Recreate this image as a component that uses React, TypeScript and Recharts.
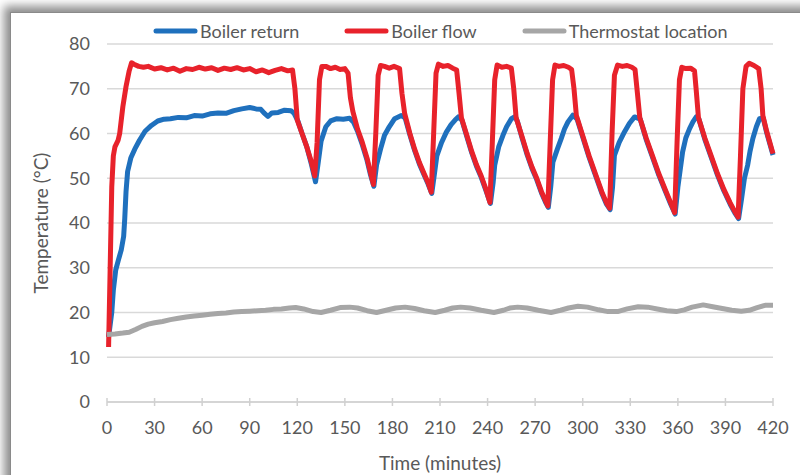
import { CartesianGrid, Legend, Line, LineChart, XAxis, YAxis } from "recharts";

// readings taken off the chart (minutes, °C)
const returnTime = [
  1, 3, 4, 5.5, 7, 9, 10.5, 11.2, 12, 13, 15, 17.5, 20.5, 24, 28, 32, 36, 40, 45, 50, 55, 60, 65, 70, 75, 80,
  85, 90, 94, 97, 99, 101.5, 104, 108, 112, 116, 118, 120.5, 123, 126, 129, 131.5,
  133, 135, 138, 141, 145, 149, 153, 155.5, 158, 161, 164, 166, 168.3,
  170, 172.5, 175, 178, 181.4, 185.6, 188, 191, 194, 197, 200, 202.5, 204.8,
  206.5, 208, 211, 214, 217, 219.5, 221.5, 223.8, 227, 230, 233, 236, 239, 241.8,
  243.5, 244.5, 247, 249.7, 252, 255, 257.5, 259, 262, 265, 268, 271, 274, 276.5, 278.3,
  279.8, 281.2, 284, 286.5, 288.5, 290.7, 293.8, 296.5, 300, 304, 308, 312, 315, 317.3,
  318.8, 320, 323, 326.4, 329.5, 332.7, 336.3, 340, 344, 348, 352, 355.5, 358.3,
  360, 363, 365, 367.4, 369.5, 371.6, 373.3, 377, 381, 385, 389, 393, 396, 398.3,
  400, 402, 404, 405.5, 407.3, 409.5, 411.5, 413.8, 416, 418, 420,
];
const returnTemp = [
  14.5, 20, 25, 29.5, 31.5, 34, 37, 41, 47, 51.5, 54.5, 56.5, 58.5, 60.5, 61.8, 62.8, 63.2, 63.3, 63.6, 63.5,
  64, 63.9, 64.4, 64.6, 64.5, 65.1, 65.5, 65.8, 65.5, 65.4, 64.6, 63.8, 64.6, 64.7, 65.2, 65.1, 64.5, 62.7,
  60, 57, 53, 49.2,
  53, 58.3, 61.5, 62.8, 63.3, 63.2, 63.4, 62.5, 60.5, 57.5, 54, 51, 48.2,
  53, 56.5, 59.6, 61.5, 63.3, 64, 63.5, 59.7, 56.2, 53.2, 50.7, 48.7, 46.6,
  51, 55, 58, 60.3, 62, 63, 63.7, 63, 59.2, 55.7, 52.7, 50.2, 47.2, 44.4,
  49, 52.9, 57, 59.6, 61.5, 63.3, 63.8, 62.5, 58.7, 55.2, 52.2, 49.7, 46.7, 44.7, 43.5,
  48, 53.6, 56.5, 58.9, 61, 62.6, 64.1, 63.2, 59.2, 54.7, 50.7, 46.7, 44.2, 43,
  48, 55.1, 58, 60.4, 62.3, 63.7, 63.2, 58.7, 54.7, 50.7, 47.2, 44.2, 42,
  48, 55.9, 59, 61.1, 62.6, 63.7, 63.2, 58.7, 54.7, 50.7, 47.2, 44.2, 42.2, 41,
  45, 50, 52.9, 56, 58.9, 61.5, 63.3, 63.5, 60.2, 57.7, 55.2,
];

const flowTime = [
  1, 2, 3, 4, 5, 7, 8, 10, 12, 14, 15.5, 17, 20, 23, 26, 30, 34, 38, 42, 46, 50, 54, 58, 62, 66, 70, 74, 78,
  82, 86, 90, 94, 98, 102, 106, 110, 114, 117, 118.5, 120, 123, 126, 129, 131,
  132.5, 134, 135.5, 138, 141, 144, 147, 150, 152, 153.5, 155, 158, 161, 164, 166, 168,
  169.5, 171, 172.5, 175, 178, 181, 184.5, 186, 187.7, 191, 194, 197, 200, 202.5, 204.5,
  206, 207.5, 209, 212, 215, 218, 220.5, 222, 223.5, 227, 230, 233, 236, 239, 241.5,
  243, 244.5, 246, 249, 252, 255, 256.5, 258, 262, 265, 268, 271, 274, 276.5, 278,
  279.5, 281, 282.5, 285, 288, 291, 293, 294.5, 296, 300, 304, 308, 312, 315, 317,
  318.5, 320, 322, 325, 328, 331, 333, 334.5, 336, 340, 344, 348, 352, 355.5, 358,
  359.5, 361, 362.5, 365, 368, 370.5, 371.5, 373, 377, 381, 385, 389, 393, 396, 398,
  399.5, 401, 403, 405, 408, 411, 412.5, 413.6, 416, 418, 420,
];
const flowTemp = [
  12.3, 30, 48, 55, 57, 58.5, 60, 66, 70.5, 74, 75.8, 75.5, 75, 74.8, 75, 74.4, 74.7, 74.2, 74.6, 73.9, 74.5,
  74.3, 74.8, 74.4, 74.7, 74.1, 74.6, 74.3, 74.7, 74.2, 74.5, 73.8, 74.2, 73.6, 74.1, 74.5, 74, 74.2, 70,
  63, 60, 57, 53.5, 50.5,
  58, 72, 75, 75, 74.5, 74.8, 74.3, 74.5, 73.5, 68, 65, 61, 58, 54.5, 51.5, 48.6,
  60, 73, 75.2, 75, 74.6, 75, 74.5, 69, 64.5, 60, 56.5, 53.5, 51, 49, 46.9,
  60, 73.5, 75.5, 75, 75.2, 74.6, 74.2, 69, 63.5, 59.5, 56, 53, 50.5, 47.5, 44.6,
  58, 72, 75.3, 74.8, 75, 74.6, 70, 63.5, 59, 55.5, 52.5, 50, 47, 45, 43.8,
  58, 72, 75.3, 75, 75.2, 74.8, 74.3, 70, 64, 59.5, 55, 51, 47, 44.5, 43.3,
  60, 73, 75.3, 75, 75.2, 74.8, 74.3, 69, 63.5, 59, 55, 51, 47.5, 44.5, 42.3,
  58, 72, 74.8, 74.5, 74.6, 74, 70, 63.5, 59, 55, 51, 47.5, 44.5, 42.5, 41.3,
  55, 70, 75, 75.7, 75.2, 74.5, 70, 64, 60.5, 58, 55.5,
];

const roomTime = [
  0, 5, 10, 14, 18, 22, 26, 30, 35, 40, 45, 50, 55, 60, 65, 70, 75, 80, 85, 90, 95, 100, 105, 110, 115, 119,
  124, 130, 135, 141, 147, 153, 158, 164, 170, 176, 182, 188, 194, 200, 207, 213, 218, 223, 229, 236, 244,
  250, 254, 259, 265, 272, 280, 286, 291, 297, 303, 310, 316, 322, 328, 335, 341, 347, 353, 359, 364, 369,
  376, 382, 388, 394, 400, 405, 410, 415, 420,
];
const roomTemp = [
  15.1, 15.2, 15.4, 15.6, 16.2, 16.9, 17.4, 17.7, 18, 18.4, 18.7, 19, 19.2, 19.4, 19.6, 19.8, 19.9, 20.1, 20.2,
  20.3, 20.4, 20.5, 20.7, 20.8, 21, 21.1, 20.8, 20.2, 20, 20.5, 21.1, 21.2, 21, 20.4, 20, 20.5, 21, 21.2, 20.9,
  20.4, 20, 20.5, 21, 21.2, 21, 20.5, 20, 20.5, 21, 21.2, 21, 20.5, 20, 20.5, 21, 21.4, 21.2, 20.6, 20.2, 20.2,
  20.8, 21.3, 21.2, 20.8, 20.4, 20.2, 20.6, 21.2, 21.7, 21.3, 20.9, 20.5, 20.3, 20.5, 21.1, 21.6, 21.6,
];

const yTicks = [0, 10, 20, 30, 40, 50, 60, 70, 80];
const xTicks = [0, 30, 60, 90, 120, 150, 180, 210, 240, 270, 300, 330, 360, 390, 420];

const seriesNames = ["Boiler return", "Boiler flow", "Thermostat location"];
const seriesColors = ["#1f70bd", "#e8222b", "#a6a6a6"];

const toRows = (times: number[], temps: number[]) => times.map((t, i) => ({ t, v: temps[i] }));

const FONT = "Lato, 'Open Sans', sans-serif";
const TEXT = "#595959";

function XTick({ x, y, payload }: any) {
  return (
    <g>
      <line x1={x} x2={x} y1={y - 4} y2={y + 4} stroke="#d0d0d0" strokeWidth={1.5} />
      <text x={x} y={y + 32} textAnchor="middle" fill={TEXT} fontSize={18} fontFamily={FONT}>
        {payload.value}
      </text>
    </g>
  );
}

function LegendRow() {
  return (
    <div style={{ display: "flex", alignItems: "center", height: 26, paddingLeft: 153, fontFamily: FONT }}>
      {seriesNames.map((name, i) => (
        <div key={name} style={{ display: "flex", alignItems: "center", marginRight: 45 }}>
          <svg width={45} height={10}>
            <line x1={3} x2={42} y1={5} y2={5} stroke={seriesColors[i]} strokeWidth={5} strokeLinecap="round" />
          </svg>
          <span style={{ marginLeft: 2, fontSize: 18, color: TEXT }}>{name}</span>
        </div>
      ))}
    </div>
  );
}

export default function App() {
  const series = [toRows(returnTime, returnTemp), toRows(flowTime, flowTemp), toRows(roomTime, roomTemp)];

  return (
    <div style={{ position: "absolute", left: 0, top: 0, width: 800, height: 475, overflow: "hidden", background: "#fff" }}>
      <div
        style={{
          position: "absolute",
          left: 10,
          top: 12,
          width: 820,
          height: 490,
          background: "#fff",
          borderLeft: "1px solid #8a8a8a",
          borderTop: "1px solid #8a8a8a",
          boxShadow: "-2px -2px 9px 4px rgba(0,0,0,0.45)",
        }}
      />
      <div style={{ position: "absolute", left: 0, top: 0 }}>
        <LineChart width={800} height={475} margin={{ top: 18, right: 27, bottom: 0, left: 0 }}>
          <CartesianGrid vertical={false} stroke="#d9d9d9" strokeWidth={1.5} />
          <XAxis
            type="number"
            dataKey="t"
            domain={[0, 420]}
            ticks={xTicks}
            interval={0}
            height={73}
            tickSize={0}
            tickMargin={0}
            tickLine={false}
            axisLine={{ stroke: "#d0d0d0", strokeWidth: 1.5 }}
            tick={<XTick />}
            label={{
              content: (p: any) => {
                const vb = p.viewBox || { x: 107, y: 402, width: 666 };
                return (
                  <text x={vb.x + vb.width / 2} y={vb.y + 68} textAnchor="middle" fill={TEXT} fontSize={19} fontFamily={FONT}>
                    Time (minutes)
                  </text>
                );
              },
            }}
          />
          <YAxis
            type="number"
            domain={[0, 80]}
            ticks={yTicks}
            interval={0}
            width={107}
            tickSize={0}
            tickMargin={17}
            tickLine={false}
            axisLine={false}
            tick={{ fill: TEXT, fontSize: 18, fontFamily: FONT }}
            label={{
              content: (p: any) => {
                const vb = p.viewBox || { x: 0, y: 44, height: 358 };
                const cx = vb.x + 40;
                const cy = vb.y + vb.height / 2;
                return (
                  <text
                    x={cx}
                    y={cy}
                    transform={`rotate(-90 ${cx} ${cy})`}
                    textAnchor="middle"
                    dominantBaseline="central"
                    fill={TEXT}
                    fontSize={19}
                    fontFamily={FONT}
                  >
                    Temperature (°C)
                  </text>
                );
              },
            }}
          />
          <Legend verticalAlign="top" wrapperStyle={{ left: 0, width: 800 }} content={() => <LegendRow />} />
          {series.map((rows, i) => (
            <Line
              key={seriesNames[i]}
              data={rows}
              dataKey="v"
              name={seriesNames[i]}
              type="linear"
              stroke={seriesColors[i]}
              strokeWidth={5}
              strokeLinejoin="round"
              dot={false}
              activeDot={false}
              isAnimationActive={false}
            />
          ))}
        </LineChart>
      </div>
    </div>
  );
}
